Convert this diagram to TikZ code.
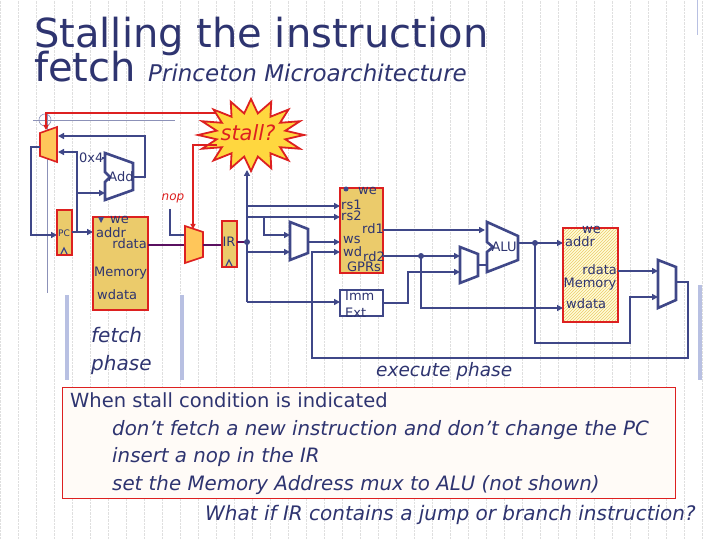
\documentclass[tikz,border=0pt]{standalone}
\usepackage{fontspec}
\setmainfont{DejaVu Sans}
\usetikzlibrary{arrows.meta,patterns}
\definecolor{wire}{HTML}{3F4788}
\definecolor{rd}{HTML}{DD2020}
\definecolor{ttl}{HTML}{2E3470}
\definecolor{boxf}{HTML}{EBCB6B}
\definecolor{muxf}{HTML}{FFC65A}
\definecolor{sep}{HTML}{B8C0E2}
\definecolor{rdat}{HTML}{5A1060}
\tikzset{
 w/.style={draw=wire,line width=2.6pt},
 a/.style={w,-{Triangle[length=6pt,width=6pt]}},
 reg/.style={draw=rd,line width=1.6pt,fill=boxf},
 mux/.style={draw=rd,line width=1.6pt,fill=muxf},
 bmux/.style={draw=wire,line width=2.6pt,fill=white},
 lbl/.style={text=ttl,font=\fontsize{13}{13}\selectfont,inner sep=0pt},
 sepl/.style={draw=sep,line width=4pt},
 dot/.style={fill=wire,circle,inner sep=0pt,minimum size=6pt},
 txt/.style={anchor=base west,text=ttl,inner sep=0pt},
}
\begin{document}
\begin{tikzpicture}[x=1pt,y=-1pt]
\useasboundingbox (0,0) rectangle (720,540);
\fill[white] (0,0) rectangle (720,540);
\draw[gray!25,densely dotted,step=18] (0,0) grid (720,540);
% title
\node[txt,font=\fontsize{40}{40}\selectfont] at (34,48) {Stalling the instruction};
\node[txt,font=\fontsize{40}{40}\selectfont] (f) at (34,82) {fetch};
\node[txt,font=\fontsize{23}{23}\selectfont\itshape] at (148,82) {Princeton Microarchitecture};
\draw[sep,line width=1pt] (697,0) -- (697,35);
% thin lines top left
\draw[wire!60,line width=0.6pt] (33,120) -- (175,120);
\draw[wire!60,line width=0.6pt] (47,113) -- (47,293);
\draw[wire!60,line width=0.6pt] (45,120) circle (6);
% red stall line to PC mux
\draw[rd,line width=1.6pt,-{Triangle[length=5pt,width=5pt]}] (215,113) -- (46,113) -- (46,130);
% separators
\draw[sepl] (67,295) -- (67,380);
\draw[sepl] (182,295) -- (182,380);
\draw[sepl] (700,285) -- (700,380);
% PC mux
\draw[mux] (40,133) -- (57,127) -- (57,162) -- (40,156) -- cycle;
\draw[w,-{Triangle[length=6pt,width=6pt]}] (40,147) -- (31,147) -- (31,235) -- (57,235);
% Add
\draw[bmux] (105,153) -- (133,163) -- (133,190) -- (105,200) -- (105,182) -- (110,177) -- (105,172) -- cycle;
\node[lbl] at (121,177) {Add};
\draw[a] (133,177) -- (145,177) -- (145,136) -- (58,136);
\node[lbl,anchor=west] at (79,158) {0x4};
\draw[w] (102,158) -- (105,158);
\draw[a] (77,232) -- (77,152) -- (58,152);
\draw[a] (77,193) -- (105,193);
% PC
\draw[reg] (57,210) rectangle (72,255);
\node[lbl,font=\fontsize{9}{9}\selectfont] at (64,233) {PC};
\draw[wire,line width=1.2pt] (61,254) -- (64,248) -- (67,254);
\draw[a] (72,232) -- (93,232);
% instr memory
\draw[reg] (93,217) rectangle (148,310);
\node[lbl,anchor=west] at (110,220) {we};
\fill[wire] (98,217)--(104,217)--(101,223)--cycle;
\node[lbl,anchor=west] at (96,233) {addr};
\node[lbl,anchor=east] at (147,244) {rdata};
\node[lbl,anchor=west] at (94,273) {Memory};
\node[lbl,anchor=west] at (97,295) {wdata};
\draw[rdat,line width=2.6pt] (148,245) -- (185,245);
% nop
\node[text=rd,inner sep=0pt,font=\fontsize{12}{12}\selectfont\itshape] at (173,198) {nop};
\draw[w,line width=1.8pt] (170,209) -- (170,235) -- (185,235);
\draw[mux] (185,226) -- (203,232) -- (203,257) -- (185,263) -- cycle;
\draw[rdat,line width=2.6pt] (203,245) -- (222,245);
% stall star
\fill[muxf!70!yellow,draw=rd,line width=1.8pt]
 plot[samples=33,domain=0:32,variable=\i] ({251+(mod(\i,2)==0?53:35)*cos(\i*360/32)},{135+(mod(\i,2)==0?36:22)*sin(\i*360/32)}) -- cycle;
\node[text=rd,inner sep=0pt,font=\fontsize{21}{21}\selectfont\itshape] at (248,133) {stall?};
\draw[rd,line width=1.6pt,-{Triangle[length=5pt,width=5pt]}] (217,145) -- (193,145) -- (193,229);
% IR
\draw[reg] (222,221) rectangle (237,267);
\node[lbl] at (229,242) {IR};
\draw[wire,line width=1.2pt] (226,266) -- (229,260) -- (232,266);
\draw[rdat,line width=2.6pt] (237,242) -- (247,242);
\node[dot] at (247,242) {};
\draw[a] (247,302) -- (247,170);
\draw[a] (247,302) -- (340,302);
\draw[a] (247,206) -- (340,206);
\draw[a] (247,217) -- (340,217);
\draw[a] (264,217) -- (264,235) -- (290,235);
\draw[a] (247,252) -- (290,252);
\draw[bmux] (290,222) -- (308,229) -- (308,253) -- (290,260) -- cycle;
\draw[a] (308,242) -- (340,242);
% GPRs
\draw[reg] (340,188) rectangle (383,273);
\fill[wire] (346,189) circle (2.5);
\node[lbl,anchor=west] at (358,191) {we};
\node[lbl,anchor=west] at (341,205) {rs1};
\node[lbl,anchor=west] at (341,216) {rs2};
\node[lbl,anchor=east] at (384,229) {rd1};
\node[lbl,anchor=west] at (343,240) {ws};
\node[lbl,anchor=west] at (343,252) {wd};
\node[lbl,anchor=east] at (385,257) {rd2};
\node[lbl] at (364,267) {GPRs};
% Imm
\draw[w,fill=white] (340,290) rectangle (383,316);
\begin{scope}
\clip (340,290) rectangle (383,316);
\node[lbl,anchor=west] at (345,296) {Imm};
\node[lbl,anchor=west] at (345,313) {Ext};
\end{scope}
% ALU path
\draw[a] (383,230) -- (485,230);
\draw[a] (383,256) -- (460,256);
\node[dot] at (421,256) {};
\draw[a] (421,256) -- (421,308) -- (563,308);
\draw[a] (383,303) -- (408,303) -- (408,272) -- (460,272);
\draw[bmux] (460,247) -- (478,254) -- (478,276) -- (460,283) -- cycle;
\draw[w] (478,265) -- (487,265);
\draw[bmux] (487,222) -- (518,236) -- (518,260) -- (487,272) -- (487,252) -- (493,247) -- (487,242) -- cycle;
\node[lbl] at (504,247) {ALU};
\draw[a] (518,243) -- (563,243);
\node[dot] at (535,243) {};
\draw[a] (535,243) -- (535,343) -- (630,343) -- (630,297) -- (658,297);
% data memory
\draw[draw=rd,line width=1.6pt,fill=yellow!15] (563,228) rectangle (618,322);
\fill[pattern=north east lines,pattern color=boxf] (563,228) rectangle (618,322);
\draw[draw=rd,line width=1.6pt] (563,228) rectangle (618,322);
\node[lbl,anchor=west] at (582,230) {we};
\node[lbl,anchor=west] at (565,242) {addr};
\node[lbl,anchor=east] at (617,270) {rdata};
\node[lbl] at (590,284) {Memory};
\node[lbl,anchor=west] at (566,304) {wdata};
\draw[a] (618,271) -- (658,271);
\draw[bmux] (658,260) -- (676,267) -- (676,300) -- (658,308) -- cycle;
\draw[a] (676,282) -- (688,282) -- (688,358) -- (312,358) -- (312,252) -- (340,252);
% phase labels
\node[txt,font=\fontsize{20}{20}\selectfont\itshape] at (91,342) {fetch};
\node[txt,font=\fontsize{20}{20}\selectfont\itshape] at (91,370) {phase};
\node[txt,font=\fontsize{18.5}{18.5}\selectfont\itshape] at (376,376) {execute phase};
% bottom box
\draw[rd,line width=0.8pt,fill=orange!3] (62,387) rectangle (675,498);
\node[txt,font=\fontsize{19.5}{19.5}\selectfont] at (70,407) {When stall condition is indicated};
\node[txt,font=\fontsize{19.8}{19.8}\selectfont\itshape] at (112,435) {don’t fetch a new instruction and don’t change the PC};
\node[txt,font=\fontsize{19.8}{19.8}\selectfont\itshape] at (112,462) {insert a nop in the IR};
\node[txt,font=\fontsize{19.8}{19.8}\selectfont\itshape] at (112,490) {set the Memory Address mux to ALU (not shown)};
\node[txt,font=\fontsize{20}{20}\selectfont\itshape] at (205,520) {What if IR contains a jump or branch instruction?};
\end{tikzpicture}
\end{document}
